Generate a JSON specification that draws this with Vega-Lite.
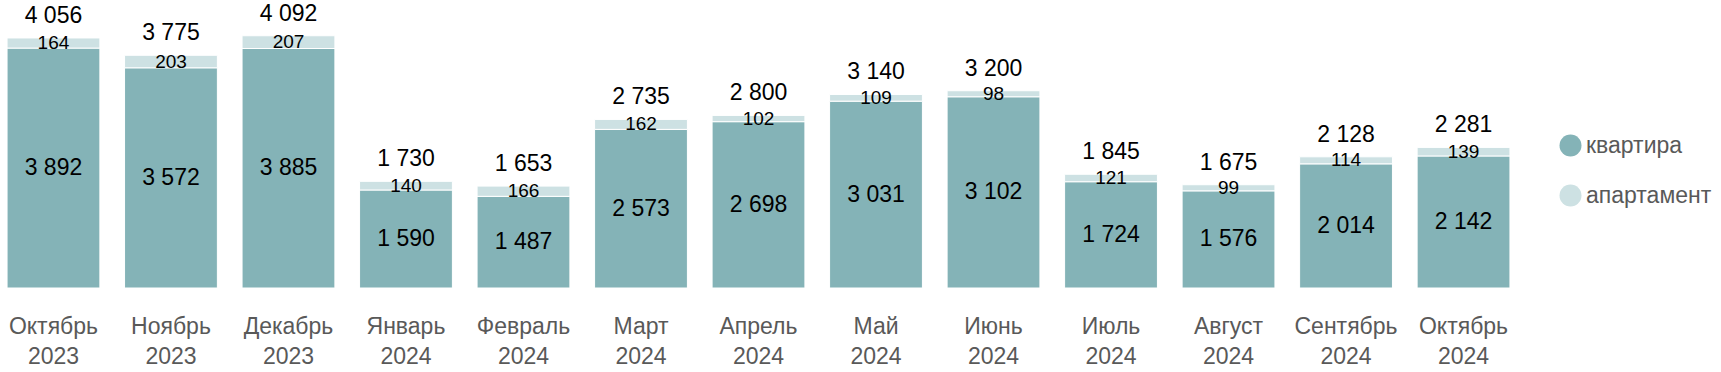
{
  "$schema": "https://vega.github.io/schema/vega-lite/v6.json",
  "width": 1517,
  "height": 288,
  "autosize": {"type": "none"},
  "padding": {"left": 0, "top": 0, "right": 204, "bottom": 84},
  "background": "white",
  "config": {
    "view": {"stroke": null},
    "font": "Liberation Sans",
    "locale": {"number": {"decimal": ",", "thousands": " ", "grouping": [3], "currency": ["", ""]}}
  },
  "data": {
    "values": [
      {"m": "Октябрь 2023", "t": "квартира", "v": 3892},
      {"m": "Октябрь 2023", "t": "апартамент", "v": 164},
      {"m": "Ноябрь 2023", "t": "квартира", "v": 3572},
      {"m": "Ноябрь 2023", "t": "апартамент", "v": 203},
      {"m": "Декабрь 2023", "t": "квартира", "v": 3885},
      {"m": "Декабрь 2023", "t": "апартамент", "v": 207},
      {"m": "Январь 2024", "t": "квартира", "v": 1590},
      {"m": "Январь 2024", "t": "апартамент", "v": 140},
      {"m": "Февраль 2024", "t": "квартира", "v": 1487},
      {"m": "Февраль 2024", "t": "апартамент", "v": 166},
      {"m": "Март 2024", "t": "квартира", "v": 2573},
      {"m": "Март 2024", "t": "апартамент", "v": 162},
      {"m": "Апрель 2024", "t": "квартира", "v": 2698},
      {"m": "Апрель 2024", "t": "апартамент", "v": 102},
      {"m": "Май 2024", "t": "квартира", "v": 3031},
      {"m": "Май 2024", "t": "апартамент", "v": 109},
      {"m": "Июнь 2024", "t": "квартира", "v": 3102},
      {"m": "Июнь 2024", "t": "апартамент", "v": 98},
      {"m": "Июль 2024", "t": "квартира", "v": 1724},
      {"m": "Июль 2024", "t": "апартамент", "v": 121},
      {"m": "Август 2024", "t": "квартира", "v": 1576},
      {"m": "Август 2024", "t": "апартамент", "v": 99},
      {"m": "Сентябрь 2024", "t": "квартира", "v": 2014},
      {"m": "Сентябрь 2024", "t": "апартамент", "v": 114},
      {"m": "Октябрь 2024", "t": "квартира", "v": 2142},
      {"m": "Октябрь 2024", "t": "апартамент", "v": 139}
    ]
  },
  "encoding": {
    "x": {
      "field": "m",
      "type": "nominal",
      "sort": ["Октябрь 2023", "Ноябрь 2023", "Декабрь 2023", "Январь 2024", "Февраль 2024", "Март 2024", "Апрель 2024", "Май 2024", "Июнь 2024", "Июль 2024", "Август 2024", "Сентябрь 2024", "Октябрь 2024"],
      "scale": {"paddingInner": 0.21, "paddingOuter": 0.06},
      "axis": {
        "title": null,
        "labelAngle": 0,
        "labelExpr": "split(datum.value, ' ')",
        "labelFontSize": 23,
        "labelColor": "#595959",
        "labelLineHeight": 30,
        "labelPadding": 27,
        "domain": false,
        "ticks": false,
        "grid": false
      }
    }
  },
  "layer": [
    {
      "mark": {"type": "bar", "stroke": "white", "strokeWidth": 1},
      "encoding": {
        "y": {"field": "v", "type": "quantitative", "stack": "zero", "scale": {"domain": [0, 4672], "nice": false, "zero": true}, "axis": null},
        "color": {
          "field": "t",
          "type": "nominal",
          "scale": {"domain": ["квартира", "апартамент"], "range": ["#84B3B7", "#CDE1E3"]},
          "legend": {
            "orient": "none",
            "legendX": 1559,
            "legendY": 134,
            "title": null,
            "symbolType": "circle",
            "symbolSize": 484,
            "symbolStrokeWidth": 0,
            "labelFontSize": 23,
            "labelColor": "#595959",
            "rowPadding": 26,
            "labelOffset": 4,
            "padding": 0
          }
        },
        "order": {"field": "t", "sort": "descending"}
      }
    },
    {
      "transform": [
        {"stack": "v", "groupby": ["m"], "sort": [{"field": "t", "order": "descending"}], "as": ["y0", "y1"]},
        {"calculate": "(datum.y0 + datum.y1) / 2", "as": "mid"},
        {"filter": "datum.t == 'квартира'"}
      ],
      "mark": {"type": "text", "fontSize": 23, "color": "#000000", "baseline": "middle"},
      "encoding": {
        "y": {"field": "mid", "type": "quantitative"},
        "text": {"field": "v", "type": "quantitative", "format": ",d"}
      }
    },
    {
      "transform": [
        {"stack": "v", "groupby": ["m"], "sort": [{"field": "t", "order": "descending"}], "as": ["y0", "y1"]},
        {"calculate": "(datum.y0 + datum.y1) / 2", "as": "mid"},
        {"filter": "datum.t == 'апартамент'"}
      ],
      "mark": {"type": "text", "fontSize": 19, "color": "#000000", "baseline": "middle"},
      "encoding": {
        "y": {"field": "mid", "type": "quantitative"},
        "text": {"field": "v", "type": "quantitative", "format": ",d"}
      }
    },
    {
      "transform": [
        {"aggregate": [{"op": "sum", "field": "v", "as": "total"}], "groupby": ["m"]}
      ],
      "mark": {"type": "text", "fontSize": 23, "color": "#000000", "baseline": "middle", "dy": -22},
      "encoding": {
        "y": {"field": "total", "type": "quantitative"},
        "text": {"field": "total", "type": "quantitative", "format": ",d"}
      }
    }
  ]
}
